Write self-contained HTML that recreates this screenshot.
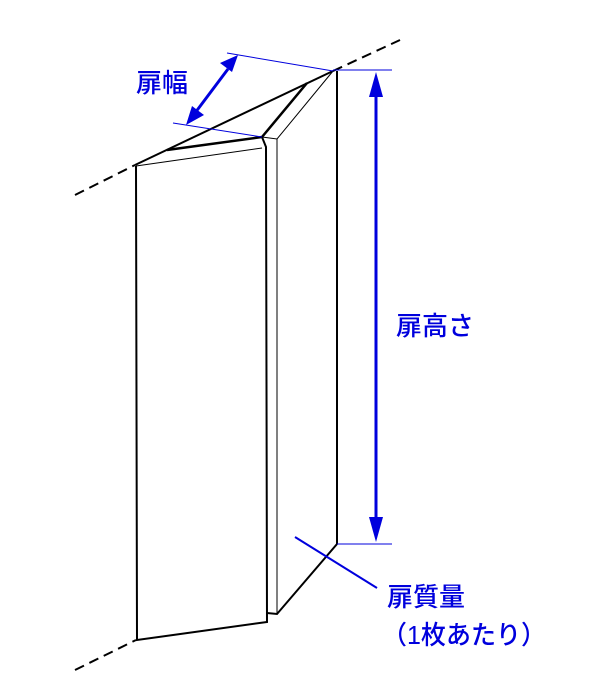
<!DOCTYPE html>
<html><head><meta charset="utf-8"><style>
html,body{margin:0;padding:0;background:#fff;width:600px;height:700px;overflow:hidden}
svg{display:block}
text{font-family:"Liberation Sans","Noto Sans CJK JP",sans-serif;fill:#0000dd;font-size:26px;font-weight:500}
</style></head><body>
<svg width="600" height="700" viewBox="0 0 600 700">
<g stroke="#000" fill="none" stroke-linejoin="miter">
<line x1="75" y1="195" x2="135" y2="165" stroke-width="2" stroke-dasharray="10,6"/>
<line x1="333" y1="71" x2="400" y2="40" stroke-width="2" stroke-dasharray="10,6"/>
<line x1="75" y1="670" x2="136" y2="640" stroke-width="2" stroke-dasharray="10,6"/>
<polyline points="135,165 333,71" stroke-width="2"/>
<polyline points="167,150 262,137 307,83" stroke-width="2.5"/>
<polyline points="262,137 266,147 267,622 137,640 136,166" stroke-width="2"/>
<line x1="136" y1="166" x2="262" y2="148" stroke-width="1"/>
<polyline points="262,137 277,139 333,71" stroke-width="1"/>
<line x1="277" y1="139" x2="277" y2="614" stroke-width="1"/>
<polyline points="267,613 277,614 337,544 337,71" stroke-width="2"/>
</g>
<g stroke="#0000dd" fill="#0000dd">
<line x1="227" y1="53" x2="333" y2="71" stroke-width="1"/>
<line x1="173" y1="123" x2="262" y2="137" stroke-width="1"/>
<line x1="333" y1="70" x2="392" y2="70" stroke-width="1"/>
<line x1="337" y1="544" x2="392" y2="544" stroke-width="1"/>
<line x1="376" y1="95" x2="376" y2="520" stroke-width="3"/>
<polygon points="376,72 369,97 383,97" stroke="none"/>
<polygon points="376,542 369,517 383,517" stroke="none"/>
<line x1="228" y1="69" x2="195" y2="113" stroke-width="3"/>
<polygon points="238,55 220,63 232,72" stroke="none"/>
<polygon points="186,125 192,106 204,115" stroke="none"/>
<line x1="295" y1="537" x2="377" y2="588" stroke-width="2"/>
</g>
<text x="136" y="92">扉幅</text>
<text x="396" y="335">扉高さ</text>
<text x="387" y="606">扉質量</text>
<text x="382" y="644" textLength="164" lengthAdjust="spacingAndGlyphs">（1枚あたり）</text>
</svg>
</body></html>
